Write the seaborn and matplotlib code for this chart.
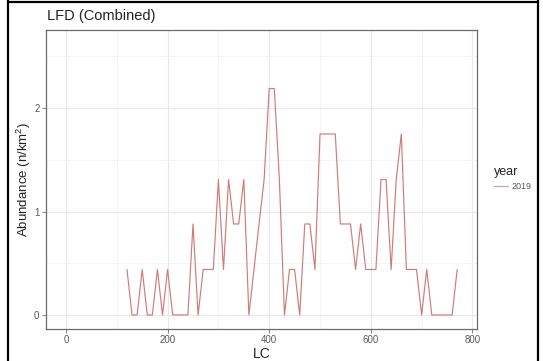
import matplotlib
matplotlib.use("Agg")
import matplotlib.pyplot as plt
from matplotlib.lines import Line2D
from matplotlib.ticker import MultipleLocator
import pandas as pd
import seaborn as sns

# Length classes (LC) and abundance per class for the combined length-frequency distribution
lc = [120, 130, 140, 150, 160, 170, 180, 190, 200, 210,
      220, 230, 240, 250, 260, 270, 280, 290, 300, 310,
      320, 330, 340, 350, 360, 370, 380, 390, 400, 410,
      420, 430, 440, 450, 460, 470, 480, 490, 500, 510,
      520, 530, 540, 550, 560, 570, 580, 590, 600, 610,
      620, 630, 640, 650, 660, 670, 680, 690, 700, 710,
      720, 730, 740, 750, 760, 770]
abundance = [0.44, 0.00, 0.00, 0.44, 0.00, 0.00, 0.44, 0.00, 0.44, 0.00,
             0.00, 0.00, 0.00, 0.88, 0.00, 0.44, 0.44, 0.44, 1.31, 0.44,
             1.31, 0.88, 0.88, 1.31, 0.00, 0.44, 0.88, 1.31, 2.19, 2.19,
             1.31, 0.00, 0.44, 0.44, 0.00, 0.88, 0.88, 0.44, 1.75, 1.75,
             1.75, 1.75, 0.88, 0.88, 0.88, 0.44, 0.88, 0.44, 0.44, 0.44,
             1.31, 1.31, 0.44, 1.31, 1.75, 0.44, 0.44, 0.44, 0.00, 0.44,
             0.00, 0.00, 0.00, 0.00, 0.00, 0.44]
year = ["2019"] * len(lc)

x_ticks = [0, 200, 400, 600, 800]
y_ticks = [0, 1, 2]

df = pd.DataFrame({"LC": lc, "Abundance": abundance, "year": year})

sns.set_theme(style="white")
plt.rcParams["font.family"] = ["Liberation Sans", "DejaVu Sans"]
plt.rcParams["mathtext.default"] = "regular"

line_color = "#d27a78"
grey_text = "#5a5a5a"
border = "#6a6a6a"

fig = plt.figure(figsize=(5.43, 3.61), dpi=100)
ax = fig.add_axes([0.0855, 0.090, 0.878 - 0.0855, 0.9169 - 0.090])

sns.lineplot(data=df, x="LC", y="Abundance", hue="year",
             palette=[line_color], linewidth=0.85, ax=ax, legend=False)

ax.set_xlim(-38.5, 808.5)
ax.set_ylim(-0.131, 2.756)
ax.set_xticks(x_ticks)
ax.set_yticks(y_ticks)
ax.xaxis.set_minor_locator(MultipleLocator(100))
ax.yaxis.set_minor_locator(MultipleLocator(0.5))

ax.grid(True, which="major", color="#e8e8e8", linewidth=0.8)
ax.grid(True, which="minor", color="#f2f2f2", linewidth=0.5)
ax.set_axisbelow(True)

for s in ax.spines.values():
    s.set_visible(True)
    s.set_color(border)
    s.set_linewidth(0.9)

ax.tick_params(axis="both", which="major", length=3, width=0.6, color=border,
               labelsize=7, labelcolor=grey_text, pad=2,
               bottom=True, left=True)
ax.tick_params(axis="both", which="minor", length=0)

ax.set_xlabel("LC", fontsize=10, color="#222222", labelpad=1)
ax.set_ylabel("Abundance (n/km$^{2}$)", fontsize=9.5, color="#222222", labelpad=1)

fig.text(47 / 543, 1 - 16 / 361, "LFD (Combined)", fontsize=10.5,
         color="#222222", ha="left", va="center")

# Legend on the right side of the panel
leg_handle = Line2D([0], [0], color="#c9a9a8", linewidth=0.9)
leg = fig.legend([leg_handle], ["2019"], title="year",
                 loc="upper left", bbox_to_anchor=(492 / 543, 1 - 164 / 361),
                 frameon=False, fontsize=6.5, title_fontsize=9,
                 handlelength=1.6, handletextpad=0.4, borderaxespad=0,
                 borderpad=0.2)
leg._legend_box.align = "left"
for t in leg.get_texts():
    t.set_color(grey_text)
leg.get_title().set_color("#222222")

# Dark frame around the figure
for xs, ys in [([7.5 / 543, 7.5 / 543], [0, 1]),
               ([538 / 543, 538 / 543], [0, 1]),
               ([7.5 / 543, 538 / 543], [1 - 1.5 / 361, 1 - 1.5 / 361])]:
    fig.add_artist(Line2D(xs, ys, color="black", linewidth=1.6,
                          transform=fig.transFigure))

fig.savefig("out.png", dpi=100)
